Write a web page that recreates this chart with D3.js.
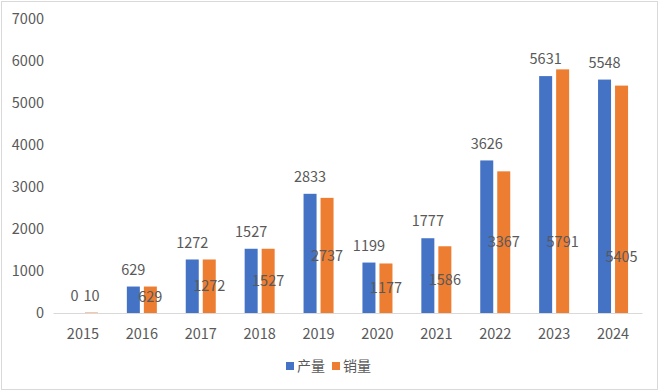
<!DOCTYPE html>
<html>
<head>
<meta charset="utf-8">
<script src="https://cdn.jsdelivr.net/npm/d3@7"></script>
<style>
  html, body { margin: 0; padding: 0; background: #fff; }
  svg text { font-family: "Noto Sans CJK SC", "Noto Sans", sans-serif; fill: #595959; }
</style>
</head>
<body>
<div id="chart"></div>
<script>
var years = ["2015", "2016", "2017", "2018", "2019", "2020", "2021", "2022", "2023", "2024"];
var output = [0, 629, 1272, 1527, 2833, 1199, 1777, 3626, 5631, 5548];   // 产量
var sales = [10, 629, 1272, 1527, 2737, 1177, 1586, 3367, 5791, 5405];   // 销量
// where the 销量 labels sit (value units), as placed in the original
var salesLabelAt = [400, 380, 636, 763, 1368, 588, 793, 1683, 1690, 1330];
var yTicks = [0, 1000, 2000, 3000, 4000, 5000, 6000, 7000];

var seriesNames = ["产量", "销量"];
var colors = ["#4472C4", "#ED7D31"];

var W = 660, H = 391;
var svg = d3.select("#chart").append("svg")
    .attr("width", W)
    .attr("height", H);

// outer frame
svg.append("rect")
    .attr("x", 1.5).attr("y", 1.5)
    .attr("width", W - 4).attr("height", H - 3)
    .attr("fill", "#fff")
    .attr("stroke", "#d9d9d9");

var x = d3.scaleBand()
    .domain(years)
    .range([53.5, 642.5]);

var y = d3.scaleLinear()
    .domain([0, 7000])
    .range([313, 18.5]);

var barW = 13, gap = 4;

// y axis labels
svg.append("g")
  .selectAll("text")
  .data(yTicks)
  .enter().append("text")
    .attr("x", 44)
    .attr("y", function(d) { return y(d); })
    .attr("dy", "0.35em")
    .attr("text-anchor", "end")
    .style("font-size", "14.5px")
    .text(function(d) { return d; });

// baseline
svg.append("line")
    .attr("x1", x.range()[0]).attr("x2", x.range()[1])
    .attr("y1", y(0) + 0.5).attr("y2", y(0) + 0.5)
    .attr("stroke", "#d9d9d9");

var groups = svg.append("g")
  .selectAll("g")
  .data(years)
  .enter().append("g")
    .attr("transform", function(d) { return "translate(" + (x(d) + x.bandwidth() / 2) + ",0)"; });

// 产量 bars
groups.append("rect")
    .attr("x", -barW - gap / 2)
    .attr("y", function(d, i) { return y(output[i]); })
    .attr("width", barW)
    .attr("height", function(d, i) { return y(0) - y(output[i]); })
    .attr("fill", colors[0]);

// 销量 bars
groups.append("rect")
    .attr("x", gap / 2)
    .attr("y", function(d, i) { return y(sales[i]); })
    .attr("width", barW)
    .attr("height", function(d, i) { return y(0) - y(sales[i]); })
    .attr("fill", colors[1]);

// 产量 labels above bars
groups.append("text")
    .attr("x", -barW / 2 - gap / 2)
    .attr("y", function(d, i) { return y(output[i]) - 17; })
    .attr("dy", "0.35em")
    .attr("text-anchor", "middle")
    .style("font-size", "14.5px")
    .text(function(d, i) { return output[i]; });

// 销量 labels inside bars
groups.append("text")
    .attr("x", barW / 2 + gap / 2)
    .attr("y", function(d, i) { return y(salesLabelAt[i]); })
    .attr("dy", "0.35em")
    .attr("text-anchor", "middle")
    .style("font-size", "14.5px")
    .text(function(d, i) { return sales[i]; });

// x axis labels
groups.append("text")
    .attr("x", 0)
    .attr("y", 334)
    .attr("dy", "0.35em")
    .attr("text-anchor", "middle")
    .style("font-size", "14.5px")
    .text(function(d) { return d; });

// legend
var legend = svg.append("g")
    .attr("transform", "translate(286,366)");

var item = legend.selectAll("g")
  .data(seriesNames)
  .enter().append("g")
    .attr("transform", function(d, i) { return "translate(" + (i * 46) + ",0)"; });

item.append("rect")
    .attr("x", 0).attr("y", -4)
    .attr("width", 8).attr("height", 8)
    .attr("fill", function(d, i) { return colors[i]; });

item.append("text")
    .attr("x", 11)
    .attr("y", 0)
    .attr("dy", "0.35em")
    .style("font-size", "14px")
    .text(function(d) { return d; });
</script>
</body>
</html>
